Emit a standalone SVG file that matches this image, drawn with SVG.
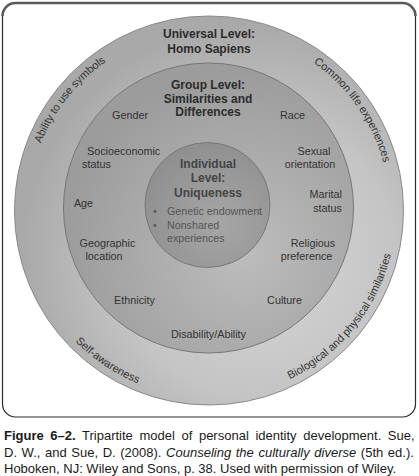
<svg xmlns="http://www.w3.org/2000/svg" width="419" height="476" viewBox="0 0 419 476">
<defs>
<radialGradient id="gOuter" cx="62%" cy="62%" r="60%">
<stop offset="0" stop-color="#d8d8d8"/>
<stop offset="0.6" stop-color="#c4c4c4"/>
<stop offset="1" stop-color="#a9a9a9"/>
</radialGradient>
<radialGradient id="gMid" cx="62%" cy="65%" r="62%">
<stop offset="0" stop-color="#bdbdbd"/>
<stop offset="1" stop-color="#9c9c9c"/>
</radialGradient>
<radialGradient id="gIn" cx="60%" cy="65%" r="65%">
<stop offset="0" stop-color="#a6a6a6"/>
<stop offset="1" stop-color="#909090"/>
</radialGradient>
<path id="arcTL" d="M 40.6 276.8 A 181 181 0 0 1 235.8 31.5"/>
<path id="arcTR" d="M 193.2 30.2 A 181 181 0 0 1 373 287"/>
<path id="arcBL" d="M 22.4 197.5 A 187 187 0 0 0 291 378.6"/>
<path id="arcBR" d="M 179.75 395.2 A 187 187 0 0 0 383.6 143.5"/>
</defs>
<style>
text{font-family:"Liberation Sans",Arial,sans-serif;}
.hd{font-size:12px;font-weight:bold;fill:#2c2c2c;text-anchor:middle;}
.hdi{font-size:12px;font-weight:bold;fill:#444;text-anchor:middle;}
.lb{font-size:10.8px;fill:#333;}
.lbm{font-size:10.8px;fill:#333;text-anchor:middle;}
.bl{font-size:10.7px;fill:#555;}
.arc{font-size:11px;fill:#333;}
.cap{font-size:13px;fill:#1a1a1a;}
</style>
<rect id="frame" x="2.5" y="3" width="413" height="414" rx="13" fill="#fff" stroke="#2a2a2a" stroke-width="1.2"/>
<path d="M 2.5 16 A 13 13 0 0 1 15.5 3 L 402.5 3 A 13 13 0 0 1 415.5 16" fill="none" stroke="#5a5a5a" stroke-width="2.6"/>
<g id="universal">
<circle cx="209" cy="210.5" r="194.5" fill="url(#gOuter)" stroke="#8a8a8a" stroke-width="1"/>
<text class="hd" x="209" y="38">Universal Level:</text>
<text class="hd" x="209" y="53">Homo Sapiens</text>
<text class="arc"><textPath href="#arcTL" startOffset="50%" text-anchor="middle">Ability to use symbols</textPath></text>
<text class="arc"><textPath href="#arcTR" startOffset="50%" text-anchor="middle">Common life experiences</textPath></text>
<text class="arc"><textPath href="#arcBL" startOffset="50%" text-anchor="middle">Self-awareness</textPath></text>
<text class="arc"><textPath href="#arcBR" startOffset="50%" text-anchor="middle">Biological and physical similarities</textPath></text>
</g>
<g id="group">
<circle cx="208.5" cy="208" r="145" fill="url(#gMid)" stroke="#777" stroke-width="1"/>
<text class="hd" x="208" y="89">Group Level:</text>
<text class="hd" x="208" y="102.5">Similarities and</text>
<text class="hd" x="208" y="116">Differences</text>
<text class="lbm" x="130" y="119">Gender</text>
<text class="lbm" x="292.5" y="119">Race</text>
<text class="lb" x="87" y="155">Socioeconomic</text>
<text class="lb" x="82" y="168">status</text>
<text class="lbm" x="314" y="155">Sexual</text>
<text class="lbm" x="310" y="168">orientation</text>
<text class="lbm" x="83.5" y="207">Age</text>
<text class="lb" x="342" y="198" text-anchor="end">Marital</text>
<text class="lb" x="342" y="212" text-anchor="end">status</text>
<text class="lbm" x="107.5" y="247">Geographic</text>
<text class="lbm" x="104" y="260">location</text>
<text class="lbm" x="313" y="247">Religious</text>
<text class="lbm" x="306.5" y="260">preference</text>
<text class="lbm" x="134.5" y="304">Ethnicity</text>
<text class="lbm" x="284.5" y="304">Culture</text>
<text class="lbm" x="208.5" y="338">Disability/Ability</text>
</g>
<g id="individual">
<circle cx="207.5" cy="205" r="62.5" fill="url(#gIn)" stroke="#777" stroke-width="1"/>
<text class="hdi" x="208" y="168">Individual</text>
<text class="hdi" x="208" y="182">Level:</text>
<text class="hdi" x="208" y="197">Uniqueness</text>
<text class="bl" x="153" y="215">•</text>
<text class="bl" x="167" y="215">Genetic endowment</text>
<text class="bl" x="153" y="229">•</text>
<text class="bl" x="167" y="229">Nonshared</text>
<text class="bl" x="167" y="242">experiences</text>
</g>
<g id="caption">
<text class="cap" x="4" y="440" word-spacing="3"><tspan font-weight="bold">Figure 6–2.</tspan> Tripartite model of personal identity development. Sue,</text>
<text class="cap" x="4" y="456.5" word-spacing="1">D. W., and Sue, D. (2008). <tspan font-style="italic">Counseling the culturally diverse</tspan> (5th ed.).</text>
<text class="cap" x="4" y="472.5">Hoboken, NJ: Wiley and Sons, p. 38. Used with permission of Wiley.</text>
</g>
</svg>
